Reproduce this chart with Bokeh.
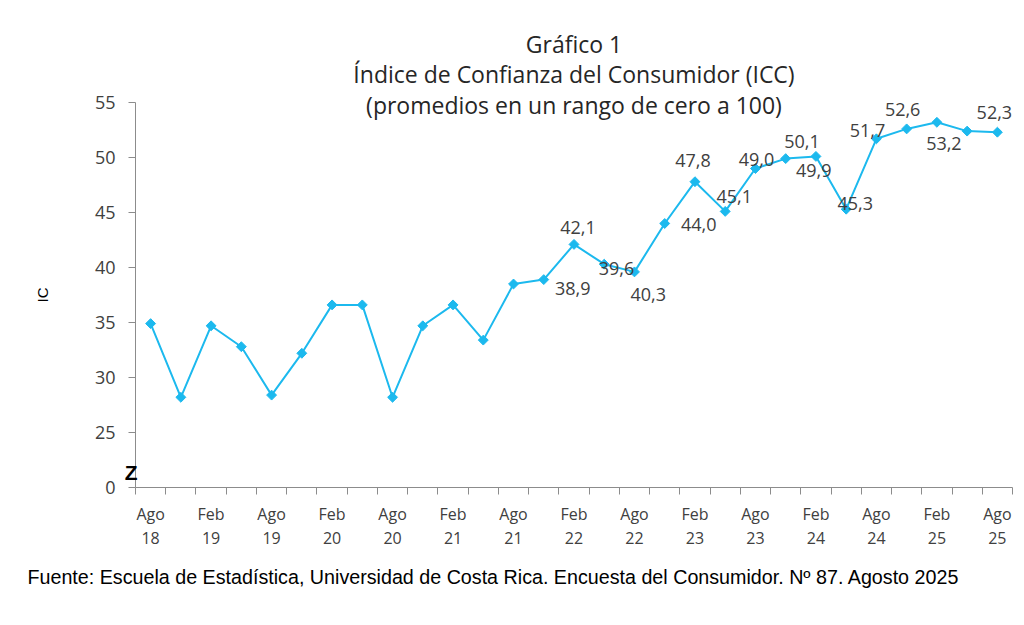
import math
from bokeh.plotting import figure
from bokeh.models import Range1d, FixedTicker, LabelSet, ColumnDataSource, Title, LinearAxis
from bokeh.core.properties import value
from bokeh.embed import file_html
from bokeh.resources import INLINE

# ---- data ----
periods = ["Ago 18", "Nov 18", "Feb 19", "May 19", "Ago 19", "Nov 19", "Feb 20", "May 20",
           "Ago 20", "Nov 20", "Feb 21", "May 21", "Ago 21", "Nov 21", "Feb 22", "May 22",
           "Ago 22", "Nov 22", "Feb 23", "May 23", "Ago 23", "Nov 23", "Feb 24", "May 24",
           "Ago 24", "Nov 24", "Feb 25", "May 25", "Ago 25"]
icc = [34.9, 28.2, 34.7, 32.8, 28.4, 32.2, 36.6, 36.6, 28.2, 34.7, 36.6, 33.4, 38.5, 38.9,
       42.1, 40.3, 39.6, 44.0, 47.8, 45.1, 49.0, 49.9, 50.1, 45.3, 51.7, 52.6, 53.2, 52.4, 52.3]
labeled_idx = [13, 14, 15, 16, 17, 18, 19, 20, 21, 22, 23, 24, 25, 26, 28]
y_ticks = [20, 25, 30, 35, 40, 45, 50, 55]
y_tick_labels = ["0", "25", "30", "35", "40", "45", "50", "55"]
break_mark_at = 21.4
title_lines = ["Gráfico 1", "Índice de Confianza del Consumidor (ICC)",
               "(promedios en un rango de cero a 100)"]
source_text = "Fuente: Escuela de Estadística, Universidad de Costa Rica. Encuesta del Consumidor. Nº 87. Agosto 2025"

# label placement offsets (pixels: right, up), style only
label_dx = [29, 4, 44, -18, 34, -2, 9, 1, 28, -14, 9, -9, -4, 7, -3]
label_dy = [-9, 17, -30, 3, -1, 21, 15, 9, -12, 15, 6, 8, 19, -21, 20]
title_standoffs = [-33, 25, -37]

n = len(periods)
xs = [i + 0.5 for i in range(n)]

LINE = "#1CB9EE"
AXIS = "#8C8C8C"
TXT = "#404040"
FONT = "Open Sans"

W, H = 1020, 620
p = figure(width=W, height=H, output_backend="svg", toolbar_location=None,
           x_range=Range1d(0, n), y_range=Range1d(20, 55),
           min_border_left=135, min_border_right=W - 1012, min_border_top=102,
           min_border_bottom=H - 487)
p.outline_line_color = None
p.grid.grid_line_color = None
p.background_fill_color = "white"

p.line(xs, icc, line_color=LINE, line_width=2)
p.scatter(xs, icc, marker="square", angle=math.pi / 4, size=7, fill_color=LINE, line_color=LINE)

# x axis
xa = p.xaxis[0]
tick_pos = [xs[i] for i in range(0, n, 2)]
xa.ticker = FixedTicker(ticks=tick_pos, minor_ticks=list(range(n + 1)))
xa.major_label_overrides = {xs[i]: periods[i].replace(" ", "\n") for i in range(0, n, 2)}
xa.major_tick_line_color = None
xa.major_tick_out = 7
xa.minor_tick_in = 0
xa.minor_tick_out = 7
xa.minor_tick_line_color = AXIS
xa.axis_line_color = AXIS
xa.major_label_standoff = 8
xa.major_label_text_font = FONT
xa.major_label_text_font_size = "16px"
xa.major_label_text_color = TXT
xa.major_label_text_line_height = 1.12

# y axis
ya = p.yaxis[0]
ya.ticker = FixedTicker(ticks=y_ticks, minor_ticks=[])
ya.major_label_overrides = {t: l for t, l in zip(y_ticks, y_tick_labels)}
ya.major_tick_in = 0
ya.major_tick_out = 7
ya.major_tick_line_color = AXIS
ya.axis_line_color = AXIS
ya.major_label_standoff = 13
ya.major_label_text_font = FONT
ya.major_label_text_font_size = "18px"
ya.major_label_text_color = TXT
ya.axis_label = "IC"
ya.axis_label_text_font = "Liberation Sans"
ya.axis_label_text_font_style = "normal"
ya.axis_label_text_font_size = "15px"
ya.axis_label_text_color = "black"
ya.axis_label_standoff = 41

# axis break mark "Z" drawn as a tick label of an extra, invisible axis
zaxis = LinearAxis(ticker=FixedTicker(ticks=[break_mark_at], minor_ticks=[]),
                   major_label_overrides={break_mark_at: "Z"},
                   axis_line_color=None, major_tick_line_color=None,
                   major_tick_in=0, major_tick_out=0, major_label_standoff=-107,
                   major_label_text_font="Liberation Sans", major_label_text_font_style="bold",
                   major_label_text_font_size="21px", major_label_text_color="black")
p.add_layout(zaxis, "left")

# data labels
lab_src = ColumnDataSource(dict(
    x=[xs[i] for i in labeled_idx],
    y=[icc[i] for i in labeled_idx],
    t=[f"{icc[i]:.1f}".replace(".", ",") for i in labeled_idx],
    dx=label_dx, dy=label_dy))
p.add_layout(LabelSet(x="x", y="y", text="t", x_offset="dx", y_offset="dy", source=lab_src,
                      text_align="center", text_baseline="middle", text_font=value(FONT),
                      text_font_size="18px", text_color=TXT))

# title: added innermost first
for line, so in reversed(list(zip(title_lines, title_standoffs))):
    p.add_layout(Title(text=line, align="center", text_font=FONT, text_font_size="23px",
                       text_font_style="normal", text_color="#262626", standoff=so), "above")

# source
p.add_layout(Title(text=source_text, align="left", offset=-108, text_font="Liberation Sans",
                   text_font_size="19.7px", text_font_style="normal", text_color="black",
                   standoff=23), "below")

open("out.html", "w").write(file_html(p, INLINE))
